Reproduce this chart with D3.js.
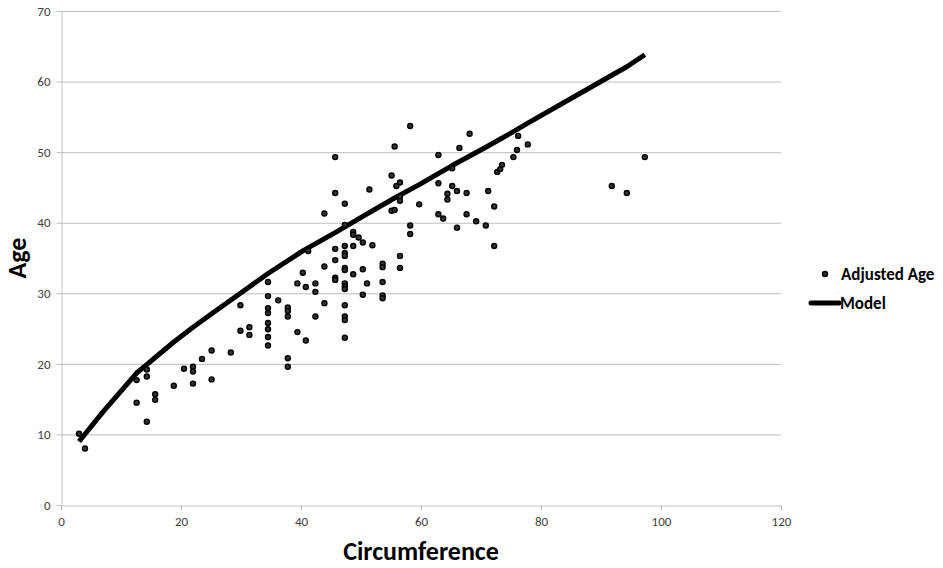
<!DOCTYPE html>
<html>
<head>
<meta charset="utf-8">
<script src="https://cdn.jsdelivr.net/npm/d3@7"></script>
<style>
  body { margin: 0; background: #fff; }
  text { font-family: Carlito, Calibri, "Open Sans", "Liberation Sans", sans-serif; }
</style>
</head>
<body>
<script>
// scatter data: circumference / adjusted age
var circ = [3.0, 4.0, 12.6, 12.6, 14.3, 14.3, 14.3, 15.7, 15.7, 18.8,
    20.5, 22.0, 22.0, 22.0, 23.5, 25.1, 25.1, 28.3, 29.9, 29.9,
    31.4, 31.4, 34.5, 34.5, 34.5, 34.5, 34.5, 34.5, 34.5, 34.5,
    36.2, 37.8, 37.8, 37.8, 37.8, 37.8, 39.4, 39.4, 40.3, 40.8,
    40.8, 41.2, 42.4, 42.4, 42.4, 43.9, 43.9, 43.9, 45.7, 45.7,
    45.7, 45.7, 45.7, 45.7, 47.3, 47.3, 47.3, 47.3, 47.3, 47.3,
    47.3, 47.3, 47.3, 47.3, 47.3, 47.3, 47.3, 47.3, 48.7, 48.7,
    48.7, 48.7, 49.6, 50.3, 50.3, 50.3, 51.0, 51.4, 51.9, 53.6,
    53.6, 53.6, 53.6, 53.6, 55.1, 55.1, 55.6, 55.6, 55.9, 56.5,
    56.5, 56.5, 56.5, 56.5, 58.2, 58.2, 58.2, 59.7, 62.9, 62.9,
    62.9, 63.7, 64.4, 64.4, 65.2, 65.2, 66.0, 66.0, 66.4, 67.6,
    67.6, 68.1, 69.2, 70.8, 71.2, 72.2, 72.2, 72.7, 73.2, 73.5,
    75.4, 76.0, 76.2, 77.8, 91.8, 94.3, 97.3];
var adjAge = [10.1, 8.0, 17.7, 14.5, 19.2, 18.2, 11.8, 15.7, 14.9, 16.9,
    19.3, 19.6, 18.9, 17.2, 20.7, 21.9, 17.8, 21.6, 28.3, 24.7,
    25.2, 24.1, 31.6, 29.6, 27.9, 27.2, 25.8, 24.9, 23.8, 22.6,
    29.0, 28.0, 27.5, 26.7, 20.8, 19.6, 31.4, 24.5, 32.9, 30.9,
    23.3, 36.0, 31.4, 30.2, 26.7, 41.3, 33.8, 28.6, 49.3, 44.2,
    36.3, 34.7, 32.2, 31.9, 42.7, 39.7, 36.7, 35.7, 35.3, 33.6,
    33.3, 31.4, 31.0, 30.6, 28.3, 26.7, 26.2, 23.7, 38.7, 38.3,
    36.7, 32.7, 37.9, 37.2, 33.4, 29.8, 31.4, 44.7, 36.8, 34.2,
    33.7, 31.6, 29.7, 29.3, 46.7, 41.7, 50.8, 41.8, 45.2, 45.7,
    43.7, 43.1, 35.3, 33.6, 53.7, 39.6, 38.4, 42.6, 49.6, 45.6,
    41.2, 40.6, 44.1, 43.3, 47.7, 45.2, 44.5, 39.3, 50.6, 44.2,
    41.2, 52.6, 40.2, 39.6, 44.5, 42.3, 36.7, 47.2, 47.6, 48.2,
    49.3, 50.3, 52.3, 51.1, 45.2, 44.2, 49.3];

// model curve
var modelX = [3.0, 7.0, 12.6, 14.3, 15.7, 18.8, 22.0, 25.1, 29.9, 34.5,
    40.3, 45.7, 50.3, 55.6, 59.7, 65.2, 70.8, 75.4, 77.8, 91.8, 94.3, 97.3];
var modelY = [9.0, 13.2, 18.7, 19.9, 20.9, 23.1, 25.2, 27.1, 30.0, 32.8,
    36.0, 38.6, 40.9, 43.5, 45.4, 48.1, 50.7, 52.9, 54.1, 60.9, 62.1, 63.8];

var xTicks = [0, 20, 40, 60, 80, 100, 120];
var yTicks = [0, 10, 20, 30, 40, 50, 60, 70];

var margin = {top: 11, right: 162, bottom: 63, left: 61},
    width = 943 - margin.left - margin.right,
    height = 568 - margin.top - margin.bottom;

var svg = d3.select("body").append("svg")
    .attr("width", 943)
    .attr("height", 568);
var g = svg.append("g")
    .attr("transform", "translate(" + margin.left + "," + margin.top + ")");

var x = d3.scaleLinear().domain([0, 120]).range([0, width]);
var y = d3.scaleLinear().domain([0, 70]).range([height, 0]);

// gridlines
g.selectAll(".grid")
    .data(yTicks.slice(1))
    .enter().append("line")
    .attr("x1", 0).attr("x2", width)
    .attr("y1", function(d) { return y(d) + 0.5; })
    .attr("y2", function(d) { return y(d) + 0.5; })
    .attr("stroke", "#bdbdbd")
    .attr("stroke-width", 1);

// axes
var xAxis = g.append("g")
    .attr("transform", "translate(0," + (height + 0.5) + ")")
    .call(d3.axisBottom(x).tickValues(xTicks).tickSize(5).tickSizeOuter(0).tickPadding(6));
var yAxis = g.append("g")
    .attr("transform", "translate(0.5,0)")
    .call(d3.axisLeft(y).tickValues(yTicks).tickSize(5).tickSizeOuter(0).tickPadding(6));
[xAxis, yAxis].forEach(function(a) {
    a.select(".domain").attr("stroke", "#bdbdbd");
    a.selectAll(".tick line").attr("stroke", "#bdbdbd");
    a.selectAll(".tick text")
        .attr("fill", "#404040")
        .style("font-size", "13px")
        .style("font-family", "Carlito, Calibri, 'Open Sans', sans-serif");
});

// model line
var pts = modelX.map(function(d, i) { return [d, modelY[i]]; });
g.append("path")
    .datum(pts)
    .attr("fill", "none")
    .attr("stroke", "#000")
    .attr("stroke-width", 5)
    .attr("stroke-linejoin", "round")
    .attr("d", d3.line()
        .x(function(d) { return x(d[0]); })
        .y(function(d) { return y(d[1]); }));

// points
g.selectAll(".dot")
    .data(circ)
    .enter().append("circle")
    .attr("cx", function(d) { return x(d); })
    .attr("cy", function(d, i) { return y(adjAge[i]); })
    .attr("r", 2.5)
    .attr("fill", "#333")
    .attr("stroke", "#000")
    .attr("stroke-width", 1.4);

// axis titles
svg.append("text")
    .attr("x", 421).attr("y", 560)
    .attr("text-anchor", "middle")
    .style("font-size", "26px")
    .style("font-weight", "bold")
    .text("Circumference");
svg.append("text")
    .attr("transform", "translate(26,258) rotate(-90)")
    .attr("text-anchor", "middle")
    .style("font-size", "26px")
    .style("font-weight", "bold")
    .text("Age");

// legend
svg.append("circle")
    .attr("cx", 825).attr("cy", 274)
    .attr("r", 2.5)
    .attr("fill", "#333")
    .attr("stroke", "#000")
    .attr("stroke-width", 1.4);
svg.append("text")
    .attr("x", 841).attr("y", 280)
    .style("font-size", "17px")
    .style("font-weight", "bold")
    .text("Adjusted Age");
svg.append("line")
    .attr("x1", 811).attr("x2", 839)
    .attr("y1", 303).attr("y2", 303)
    .attr("stroke", "#000")
    .attr("stroke-width", 5)
    .attr("stroke-linecap", "round");
svg.append("text")
    .attr("x", 840).attr("y", 309)
    .style("font-size", "17px")
    .style("font-weight", "bold")
    .text("Model");
</script>
</body>
</html>
